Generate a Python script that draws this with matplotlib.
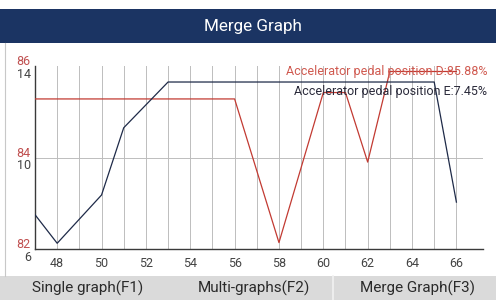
import matplotlib
matplotlib.use("Agg")
import matplotlib.pyplot as plt
from matplotlib.patches import Rectangle
from matplotlib.lines import Line2D

plt.rcParams['font.family'] = ['Roboto', 'DejaVu Sans']

# ---- data ----
title = "Merge Graph"
x_red = [47, 56, 58, 60, 61, 62, 63, 64, 65, 66]
y_red = [85.28, 85.28, 82.14, 85.42, 85.42, 83.9, 85.88, 85.88, 85.88, 85.88]
x_blue = [47, 48, 50, 51, 53, 65, 66]
y_blue = [7.5, 6.25, 8.36, 11.3, 13.3, 13.3, 8.05]
red_ticks = [82, 84, 86]
blue_ticks = [6, 10, 14]
x_major = list(range(48, 67, 2))
x_minor = list(range(49, 67, 2))
legend_red = "Accelerator pedal position D:85.88%"
legend_blue = "Accelerator pedal position E:7.45%"
buttons = ["Single graph(F1)", "Multi-graphs(F2)", "Merge Graph(F3)"]

W, H = 496, 300
fig = plt.figure(figsize=(W / 100, H / 100), dpi=100)
fig.patch.set_facecolor('white')

def fx(px):
    return px / W

def fy(py):
    return 1 - py / H

# header bar
fig.patches.append(Rectangle((0, fy(43)), 1, (43 - 9) / H, transform=fig.transFigure,
                             facecolor='#1b3463', edgecolor='none', zorder=0))
fig.text(fx(253), fy(27), title, color='white', fontsize=12.3, ha='center', va='center')

# bottom bar
fig.patches.append(Rectangle((0, 0), 1, (300 - 276) / H, transform=fig.transFigure,
                             facecolor='#dadada', edgecolor='none', zorder=0))
fig.lines.append(Line2D([fx(333), fx(333)], [0, fy(276)], transform=fig.transFigure,
                        color='#f2f2f2', lw=1.2))
for label, cx in zip(buttons, [88, 254, 417]):
    fig.text(fx(cx), fy(288), label, color='#2a2a2a', fontsize=11, ha='center', va='center')

# panel border
fig.lines.append(Line2D([fx(4.5), fx(4.5)], [fy(276), fy(43)], transform=fig.transFigure,
                        color='#c8c8c8', lw=0.8))

# plot axes
L, R, T, B = 35, 483, 66, 249
ax = fig.add_axes([fx(L), fy(B), (R - L) / W, (B - T) / H])
ax.set_xlim(47, 67.2)
ax.set_ylim(82, 86)
ax2 = ax.twinx()
ax2.set_ylim(6, 14)

for a in (ax, ax2):
    for s in ['top', 'right']:
        a.spines[s].set_visible(False)
    a.set_yticks([])
ax2.spines['left'].set_visible(False)
ax2.spines['bottom'].set_visible(False)
ax.spines['left'].set_color('#3a3a3a')
ax.spines['bottom'].set_color('#3a3a3a')
ax.spines['left'].set_linewidth(1.0)
ax.spines['bottom'].set_linewidth(1.0)

ax.set_xticks(x_major)
ax.set_xticks(x_minor, minor=True)
ax.tick_params(axis='x', which='both', length=0, pad=6, labelsize=9, labelcolor='#444444')
ax.grid(True, axis='x', which='both', color='#bdbdbd', lw=0.7)
ax.axhline(84, color='#bdbdbd', lw=0.7, zorder=1)
ax.set_axisbelow(True)

ax.plot(x_red, y_red, color='#c23a32', lw=0.9, zorder=3)
ax2.plot(x_blue, y_blue, color='#1e2a48', lw=0.9, zorder=4)

for v in red_ticks:
    ax.annotate(str(v), xy=(0, v), xycoords=('axes fraction', 'data'), xytext=(-3, 3),
                textcoords='offset points', ha='right', va='center', fontsize=9,
                color='#c05050', annotation_clip=False)
for v in blue_ticks:
    ax2.annotate(str(v), xy=(0, v), xycoords=('axes fraction', 'data'), xytext=(-3, -6),
                 textcoords='offset points', ha='right', va='center', fontsize=9,
                 color='#444444', annotation_clip=False)

fig.text(fx(487), fy(72), legend_red, color='#d05a50', fontsize=9, ha='right', va='center')
fig.text(fx(487), fy(91), legend_blue, color='#2a2a3a', fontsize=9, ha='right', va='center')

fig.savefig('out.png', dpi=100)
